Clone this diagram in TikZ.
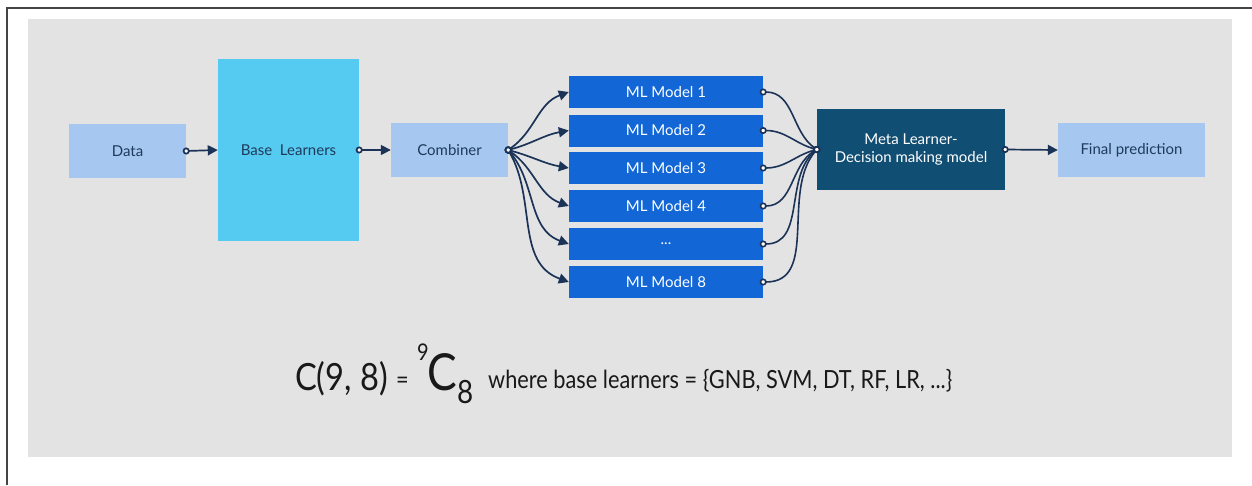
\documentclass[tikz,border=0pt]{standalone}
\usepackage{fontspec}
\setmainfont{Lato}
\newfontfamily\formfont[FakeStretch=0.87]{Lato}
\usetikzlibrary{arrows.meta}
\definecolor{panel}{HTML}{E3E3E3}
\definecolor{lightbox}{HTML}{A6C8F0}
\definecolor{basebox}{HTML}{56CBF1}
\definecolor{mlbox}{HTML}{1266D6}
\definecolor{metabox}{HTML}{114E73}
\definecolor{navy}{HTML}{1C3358}
\definecolor{boxtext}{HTML}{1E3A5C}
\definecolor{frameline}{HTML}{444444}
\begin{document}
\begin{tikzpicture}[x=1pt,y=-1pt,
  box/.style={rectangle, inner sep=0pt, font=\fontsize{15}{18}\selectfont},
  lightnode/.style={box, fill=lightbox, text=boxtext, minimum width=117pt, minimum height=54pt},
  basenode/.style={box, fill=basebox, text=boxtext, minimum width=141pt, minimum height=182pt},
  mlnode/.style={box, fill=mlbox, text=white, minimum width=194pt, minimum height=32pt},
  metanode/.style={box, fill=metabox, text=white, minimum width=188pt, minimum height=81pt, align=center},
  conn/.style={draw=navy, line width=1.7pt, shorten <=-3.5pt, {Circle[fill=white,length=7pt,width=7pt]}-{Triangle[length=10pt,width=10pt]}},
  fanin/.style={draw=navy, line width=1.6pt, shorten <=-3.5pt, shorten >=-3.5pt, {Circle[fill=white,length=7pt,width=7pt]}-{Circle[fill=white,length=7pt,width=7pt]}},
  formtext/.style={inner sep=0pt, anchor=base west, text=black!90}
]
\useasboundingbox (0,0) rectangle (1252,485);
\fill[panel] (28,19) rectangle (1232,457);
\draw[frameline, line width=1.8pt] (7,485) -- (7,8) -- (1252,8);

\node[lightnode] (data) at (127.5,151) {Data};
\node[basenode] (base) at (288.5,150) {Base\ \ Learners};
\node[lightnode] (comb) at (449.5,150) {Combiner};
\node[mlnode] (m1) at (666,92) {ML Model 1};
\node[mlnode] (m2) at (666,130.5) {ML Model 2};
\node[mlnode] (m3) at (666,168) {ML Model 3};
\node[mlnode] (m4) at (666,206) {ML Model 4};
\node[mlnode] (m5) at (666,244) {...};
\node[mlnode] (m8) at (666,282) {ML Model 8};
\node[metanode] (meta) at (911,149.5) {Meta Learner-\\Decision making model};
\node[lightnode, minimum width=147pt] (final) at (1131.5,150) {Final prediction};

\draw[conn] (data.east) -- (base.west);
\draw[conn] (base.east) -- (comb.west);
\foreach \m/\o/\i in {m1/35/200, m2/15/190, m3/-15/170, m4/-35/160, m5/-50/160, m8/-60/160}{
  \draw[conn] (comb.east) to[out=\o,in=\i] (\m.west);
}
\foreach \m/\i in {m1/145, m2/165, m3/195, m4/210, m5/220, m8/230}{
  \draw[fanin] (\m.east) to[out=0,in=\i] (meta.west);
}
\draw[conn] (meta.east) -- (final.west);

\node[formtext, font=\formfont\fontsize{37.5}{40}\selectfont] (f1) at (295,390) {C(9, 8)};
\node[formtext, font=\formfont\fontsize{25}{28}\selectfont] (f2) at (396,388) {=};
\node[formtext, font=\formfont\fontsize{23}{25}\selectfont] (f3) at (417,360) {9};
\node[formtext, font=\formfont\fontsize{51}{54}\selectfont] (f4) at (427,390) {C};
\node[formtext, font=\formfont\fontsize{32}{34}\selectfont] (f5) at (457,403) {8};
\node[formtext, font=\formfont\fontsize{25}{28}\selectfont] (f6) at (488,388) {where base learners = \{GNB, SVM, DT, RF, LR, ...\}};
\end{tikzpicture}
\end{document}
